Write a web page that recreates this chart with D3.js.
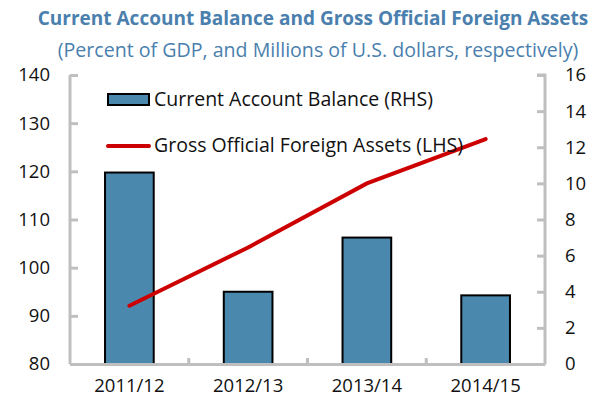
<!DOCTYPE html>
<html>
<head>
<meta charset="utf-8">
<script src="https://cdn.jsdelivr.net/npm/d3@7"></script>
<style>
  body { margin: 0; background: #fff; }
  text { font-family: "Open Sans", "Noto Sans", sans-serif; }
</style>
</head>
<body>
<script>
// data
var years = ["2011/12", "2012/13", "2013/14", "2014/15"];
var currentAccount = [10.6, 4.0, 7.0, 3.8];      // percent of GDP (RHS)
var foreignAssets = [92.1, 104.2, 117.5, 126.7]; // millions of USD (LHS)
var leftTicks = [80, 90, 100, 110, 120, 130, 140];
var rightTicks = [0, 2, 4, 6, 8, 10, 12, 14, 16];

var W = 602, H = 405;
var margin = {top: 75, right: 57, bottom: 41, left: 70},
    width = W - margin.left - margin.right,
    height = H - margin.top - margin.bottom;

var svg = d3.select("body")
  .append("svg")
    .attr("width", W)
    .attr("height", H);

// titles
svg.append("text")
  .attr("x", 313).attr("y", 25)
  .attr("text-anchor", "middle")
  .style("font-size", "19px").style("font-weight", "bold")
  .style("fill", "#4a7fae")
  .text("Current Account Balance and Gross Official Foreign Assets");
svg.append("text")
  .attr("x", 318).attr("y", 57)
  .attr("text-anchor", "middle")
  .style("font-size", "19.6px")
  .style("fill", "#4a7fae")
  .text("(Percent of GDP, and Millions of U.S. dollars, respectively)");

var g = svg.append("g")
  .attr("transform", "translate(" + margin.left + "," + margin.top + ")");

var x = d3.scaleBand().domain(years).range([0, width]).paddingInner(0.59).paddingOuter(0.295);
var xc = d3.scaleBand().domain(years).range([0, width]);
var yL = d3.scaleLinear().domain([80, 140]).range([height, 0]);
var yR = d3.scaleLinear().domain([0, 16]).range([height, 0]);

// bars
g.selectAll("rect.bar")
  .data(currentAccount)
  .enter()
  .append("rect")
    .attr("class", "bar")
    .attr("x", function(d, i) { return x(years[i]); })
    .attr("width", x.bandwidth())
    .attr("y", function(d) { return yR(d); })
    .attr("height", function(d) { return height - yR(d); })
    .style("fill", "#4a89ad")
    .style("stroke", "#000")
    .style("stroke-width", 2);

// axes
var axisColor = "#bfbfbf";
var left = g.append("g")
  .call(d3.axisLeft(yL).tickValues(leftTicks).tickSize(-8).tickPadding(20));
var right = g.append("g")
  .attr("transform", "translate(" + width + ",0)")
  .call(d3.axisRight(yR).tickValues(rightTicks).tickSize(-8).tickPadding(20));
var bottom = g.append("g")
  .attr("transform", "translate(0," + height + ")")
  .call(d3.axisBottom(xc).tickSize(0).tickPadding(15));

[left, right, bottom].forEach(function(a) {
  a.select(".domain").style("stroke", axisColor).style("stroke-width", 3);
  a.selectAll(".tick line").style("stroke", axisColor).style("stroke-width", 3);
  a.selectAll("text").style("font-size", "18.5px").style("fill", "#111")
    .style("font-family", "'Open Sans', sans-serif");
});
left.select(".domain").attr("d", "M0," + height + "V0");
right.select(".domain").attr("d", "M-8,0H0V" + height);
// category separators on x axis
g.selectAll("line.sep")
  .data(years.slice(1))
  .enter()
  .append("line")
    .attr("x1", function(d) { return xc(d); })
    .attr("x2", function(d) { return xc(d); })
    .attr("y1", height).attr("y2", height - 6)
    .style("stroke", axisColor).style("stroke-width", 3);

// line
var line = d3.line()
  .x(function(d, i) { return xc(years[i]) + xc.bandwidth() / 2; })
  .y(function(d) { return yL(d); });
g.append("path")
  .datum(foreignAssets)
  .attr("d", line)
  .style("fill", "none")
  .style("stroke", "#cc0000")
  .style("stroke-width", 4)
  .style("stroke-linecap", "round");

// legend
var lg = svg.append("g");
lg.append("rect")
  .attr("x", 108).attr("y", 94).attr("width", 41).attr("height", 11)
  .style("fill", "#4a89ad").style("stroke", "#000").style("stroke-width", 2);
lg.append("text")
  .attr("x", 154).attr("y", 106)
  .style("font-size", "19.5px").style("fill", "#111")
  .text("Current Account  Balance  (RHS)");
lg.append("line")
  .attr("x1", 108).attr("x2", 149).attr("y1", 146).attr("y2", 146)
  .style("stroke", "#cc0000").style("stroke-width", 4).style("stroke-linecap", "round");
lg.append("text")
  .attr("x", 154).attr("y", 152)
  .style("font-size", "19.5px").style("fill", "#111")
  .text("Gross Official Foreign Assets (LHS)");
</script>
</body>
</html>
